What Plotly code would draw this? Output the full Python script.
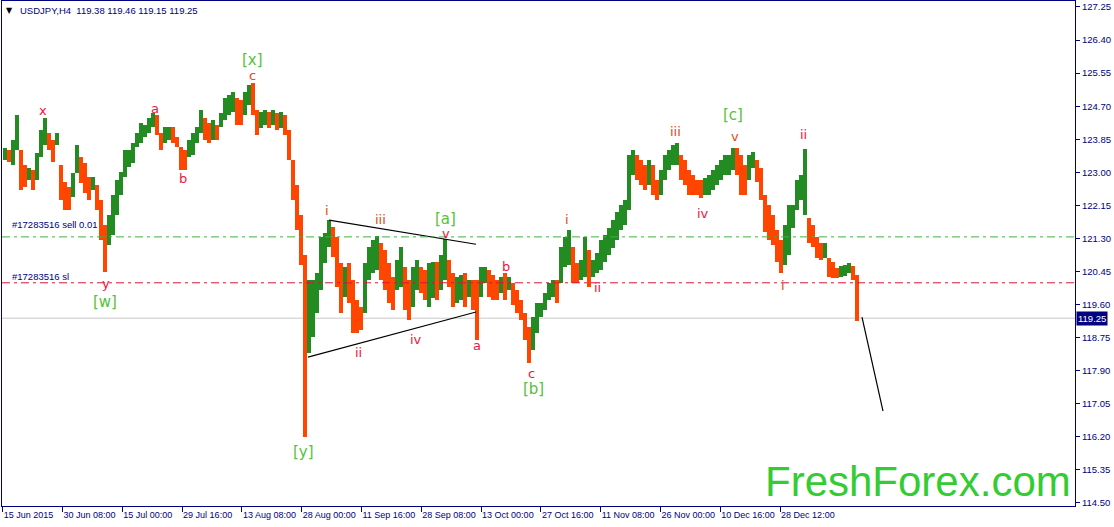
import numpy as np
import plotly.graph_objects as go

# ---------------- data ----------------
symbol = "USDJPY,H4"
last_ohlc = ["119.38", "119.46", "119.15", "119.25"]

# price columns (each column = ~4 H4 bars), left to right
highs = [
    123.63, 123.57, 123.83, 124.47, 123.57, 123.19, 123.11, 123.06, 123.50, 124.09,
    124.40, 124.01, 123.83, 124.01, 123.19, 122.75, 122.62, 122.98, 123.70, 123.40,
    123.24, 122.88, 122.88, 122.67, 122.29, 121.65, 121.90, 122.42, 122.80, 123.01,
    123.57, 123.57, 123.75, 124.01, 124.27, 124.22, 124.40, 124.53, 124.47, 124.01,
    124.17, 124.17, 124.17, 123.91, 123.65, 123.57, 123.83, 124.01, 124.17, 124.60,
    124.40, 124.27, 124.35, 124.22, 124.53, 124.91, 124.99, 125.07, 124.91, 124.86,
    125.07, 125.25, 125.30, 124.60, 124.55, 124.60, 124.55, 124.60, 124.53, 124.55,
    124.47, 124.09, 123.32, 122.67, 121.90, 120.88, 120.23, 120.23, 120.41, 121.34,
    121.44, 121.77, 121.59, 121.34, 120.67, 120.57, 120.67, 120.23, 119.72, 119.54,
    120.67, 121.08, 121.26, 121.36, 121.18, 121.00, 120.67, 120.31, 120.75, 121.08,
    120.57, 120.23, 120.57, 120.75, 120.57, 120.49, 120.67, 120.70, 120.70, 120.88,
    121.29, 120.75, 120.41, 120.31, 120.36, 120.41, 120.23, 120.23, 120.23, 120.57,
    120.57, 120.49, 120.36, 120.23, 120.31, 120.41, 120.31, 120.15, 119.98, 119.72,
    119.38, 119.02, 119.28, 119.64, 119.64, 119.90, 120.15, 120.23, 120.23, 121.08,
    121.34, 121.52, 121.08, 120.67, 120.75, 121.34, 121.00, 120.75, 120.93, 121.26,
    121.39, 121.57, 121.77, 121.98, 122.16, 122.29, 123.45, 123.57, 123.45, 123.32,
    123.19, 123.32, 123.19, 122.80, 123.06, 123.45, 123.57, 123.70, 123.75, 123.45,
    123.32, 123.06, 122.93, 122.80, 122.80, 122.85, 122.93, 123.06, 123.19, 123.32,
    123.45, 123.45, 123.63, 123.63, 123.45, 123.19, 123.45, 123.52, 123.32, 123.11,
    122.42, 122.16, 121.90, 121.52, 121.26, 121.65, 122.16, 122.16, 122.80, 122.93,
    123.60, 121.83, 121.65, 121.34, 121.18, 121.18, 120.80, 120.70, 120.54, 120.59,
    120.62, 120.67, 120.59, 120.36,
]
lows = [
    123.32, 123.27, 123.19, 123.57, 122.55, 122.62, 122.80, 122.55, 122.80, 123.40,
    123.70, 123.57, 123.27, 123.70, 122.29, 122.03, 122.03, 122.37, 122.98, 122.73,
    122.47, 122.29, 122.55, 122.03, 121.26, 120.44, 121.13, 121.39, 121.90, 122.42,
    122.88, 123.14, 123.24, 123.65, 123.75, 123.91, 124.01, 124.17, 123.96, 123.57,
    123.75, 123.83, 123.75, 123.65, 123.06, 123.06, 123.40, 123.45, 123.75, 124.01,
    123.83, 123.75, 123.83, 123.83, 124.17, 124.35, 124.47, 124.55, 124.22, 124.22,
    124.47, 124.73, 124.47, 123.96, 124.14, 124.22, 124.14, 124.22, 124.09, 124.14,
    123.96, 123.32, 122.29, 121.52, 120.62, 116.20, 118.36, 118.77, 119.38, 119.98,
    120.67, 121.08, 120.82, 120.05, 119.38, 119.80, 119.64, 118.87, 118.87, 118.95,
    119.38, 120.23, 120.41, 120.49, 120.23, 119.98, 119.64, 119.46, 119.98, 120.05,
    119.46, 119.20, 119.54, 119.98, 119.90, 119.72, 119.54, 119.77, 119.72, 119.98,
    120.23, 120.05, 119.54, 119.64, 119.72, 119.54, 119.80, 119.46, 118.69, 119.80,
    120.15, 119.80, 119.72, 119.72, 119.90, 119.72, 119.98, 119.59, 119.38, 119.20,
    118.69, 118.11, 118.43, 118.87, 119.28, 119.46, 119.72, 119.80, 119.64, 120.15,
    120.57, 120.62, 120.15, 120.15, 120.23, 120.31, 120.05, 120.31, 120.41, 120.49,
    120.70, 120.88, 121.05, 121.26, 121.52, 121.65, 122.03, 122.93, 122.80, 122.67,
    122.55, 122.67, 122.42, 122.29, 122.42, 122.80, 123.06, 123.19, 123.19, 122.80,
    122.67, 122.42, 122.42, 122.42, 122.34, 122.42, 122.42, 122.55, 122.67, 122.80,
    122.93, 122.93, 123.06, 122.93, 122.42, 122.42, 122.80, 123.11, 122.75, 122.29,
    121.47, 121.26, 121.13, 120.70, 120.41, 120.62, 120.88, 121.57, 122.03, 122.29,
    121.90, 121.18, 121.08, 120.80, 120.75, 120.80, 120.31, 120.28, 120.28, 120.31,
    120.33, 120.41, 120.23, 119.18,
]

date_labels = ["15 Jun 2015", "30 Jun 08:00", "15 Jul 00:00", "29 Jul 16:00",
               "13 Aug 08:00", "28 Aug 00:00", "11 Sep 16:00", "28 Sep 08:00",
               "13 Oct 00:00", "27 Oct 16:00", "11 Nov 08:00", "26 Nov 00:00",
               "10 Dec 16:00", "28 Dec 12:00"]
price_ticks = [127.25, 126.40, 125.55, 124.70, 123.85, 123.00, 122.15, 121.30,
               120.45, 119.60, 118.75, 117.90, 117.05, 116.20, 115.35, 114.50]

order_id = "#17283516"
sell_price = 121.34
sl_price = 120.16
last_price = 119.25

# wave labels: text, bar position, price, style
wave_labels = [
    ("x", 41, 124.60, "r"), ("a", 153, 124.65, "r"), ("b", 181, 122.85, "r"),
    ("c", 250, 125.48, "o"), ("[x]", 250, 125.90, "g"),
    ("y", 104, 120.15, "r"), ("[w]", 103, 119.67, "g"), ("[y]", 301, 115.81, "g"),
    ("i", 325, 122.01, "o"), ("iii", 378, 121.80, "o"), ("ii", 356, 118.36, "r"),
    ("iv", 414, 118.69, "r"), ("[a]", 443, 121.80, "g"), ("v", 444, 121.42, "r"),
    ("a", 475, 118.54, "r"), ("b", 504, 120.59, "r"), ("c", 529, 117.84, "r"),
    ("[b]", 531, 117.43, "g"), ("i", 565, 121.80, "o"), ("ii", 595, 120.05, "r"),
    ("iii", 673, 124.06, "o"), ("iv", 701, 121.95, "r"), ("[c]", 731, 124.47, "g"),
    ("v", 733, 123.91, "o"), ("ii", 801, 123.96, "r"), ("i", 781, 120.10, "o"),
]

tri_upper_x, tri_upper_y = [327, 474], [121.77, 121.15]
tri_lower_x, tri_lower_y = [306, 474], [118.25, 119.41]
proj_x, proj_y = [860, 881], [119.28, 116.86]

# ---------------- styling ----------------
NAVY = "#000080"
UP = "#228B22"
DOWN = "#FF4500"
FONT = "Liberation Sans, Arial, sans-serif"
label_colors = {"r": "#F0143C", "o": "#E04A14", "g": "#55C23A"}

highs_a = np.array(highs)
lows_a = np.array(lows)
n = len(highs_a)
xpos = 3 + 4 * np.arange(n)
mids = (highs_a + lows_a) / 2
colors = [UP if i == 0 or mids[i] >= mids[i - 1] else DOWN for i in range(n)]

fig = go.Figure()
fig.add_trace(go.Bar(x=xpos, y=highs_a - lows_a, base=lows_a, width=3.3,
                     marker=dict(color=colors, line_width=0), hoverinfo="skip",
                     showlegend=False))

for xs, ys in [(tri_upper_x, tri_upper_y), (tri_lower_x, tri_lower_y), (proj_x, proj_y)]:
    fig.add_trace(go.Scatter(x=xs, y=ys, mode="lines", line=dict(color="black", width=1.2),
                             hoverinfo="skip", showlegend=False))

XMAX = 1073
fig.add_shape(type="line", xref="paper", x0=0, x1=1, y0=last_price, y1=last_price,
              line=dict(color="#C8C8C8", width=1), layer="below")
fig.add_shape(type="line", xref="paper", x0=0, x1=1, y0=sell_price, y1=sell_price,
              line=dict(color="#3CB43C", width=1, dash="8px,4px,3px,4px"))
fig.add_shape(type="line", xref="paper", x0=0, x1=1, y0=sl_price, y1=sl_price,
              line=dict(color="#DC143C", width=1, dash="8px,4px,3px,4px"))

ann = []
for txt, xp, yp, st in wave_labels:
    size = 15 if st == "g" else 13
    ann.append(dict(x=xp, y=yp, text=txt, showarrow=False, xanchor="center", yanchor="middle",
                    font=dict(family="DejaVu Sans", size=size, color=label_colors[st])))

ann.append(dict(x=8, y=121.67, text=order_id + " sell 0.01", showarrow=False, xanchor="left",
                yanchor="middle", font=dict(family=FONT, size=9.5, color=NAVY)))
ann.append(dict(x=8, y=120.31, text=order_id + " sl", showarrow=False, xanchor="left",
                yanchor="middle", font=dict(family=FONT, size=9.5, color=NAVY)))
ann.append(dict(x=7, y=127.15, text="▼", showarrow=False, xanchor="center", yanchor="middle",
                font=dict(family="DejaVu Sans", size=8, color="black")))
ann.append(dict(x=16, y=127.15,
                text=symbol + "\u00a0\u00a0" + " ".join(last_ohlc),
                showarrow=False, xanchor="left", yanchor="middle",
                font=dict(family=FONT, size=9.5, color=NAVY)))
ann.append(dict(xref="paper", x=1, y=last_price, text="119.25", showarrow=False,
                xanchor="left", yanchor="middle", xshift=1, bgcolor=NAVY, borderpad=1,
                font=dict(family=FONT, size=9.5, color="white")))
ann.append(dict(xref="paper", x=1, y=114.5, text="FreshForex.com", showarrow=False,
                xanchor="right", yanchor="bottom", xshift=-2, yshift=-4,
                font=dict(family="Liberation Sans", size=42, color="#33CC33")))

tick_step = 59.8
fig.update_layout(
    width=1114, height=527,
    margin=dict(l=2, r=39, t=1, b=21, autoexpand=False),
    paper_bgcolor="white", plot_bgcolor="white",
    bargap=0, showlegend=False,
    annotations=ann,
    xaxis=dict(range=[0, XMAX], showgrid=False, zeroline=False, automargin=False,
               tickvals=[0.7 + tick_step * k for k in range(len(date_labels))],
               ticktext=date_labels, ticks="outside", ticklen=5, tickcolor=NAVY,
               tickangle=0, ticklabelposition="outside right",
               tickfont=dict(family=FONT, size=9, color=NAVY),
               showline=True, linecolor=NAVY, linewidth=1, mirror=True),
    yaxis=dict(range=[114.422, 127.404], side="right", showgrid=False, zeroline=False,
               automargin=False,
               tickvals=price_ticks, ticktext=[f"{v:.2f}" for v in price_ticks],
               ticks="outside", ticklen=4, tickcolor=NAVY,
               tickfont=dict(family=FONT, size=9.5, color=NAVY),
               showline=True, linecolor=NAVY, linewidth=1, mirror=True),
)

fig.write_html("out.html", config={"displayModeBar": False},
               post_script="document.body.style.margin='0';")
